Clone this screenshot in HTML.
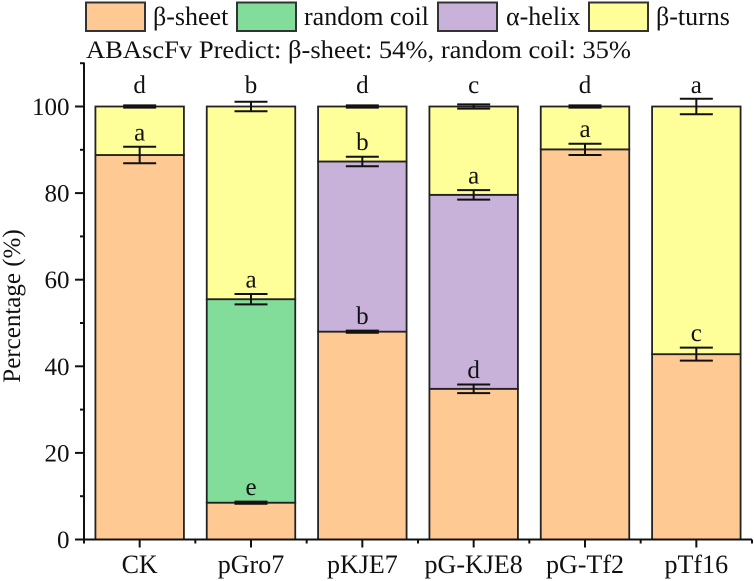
<!DOCTYPE html>
<html>
<head>
<meta charset="utf-8">
<style>
html,body{margin:0;padding:0;background:#fff;}
svg{display:block;font-family:"Liberation Serif",serif;}
</style>
</head>
<body>
<svg id="chart" xmlns="http://www.w3.org/2000/svg" width="754" height="581" viewBox="0 0 754 581"></svg>
<script>
var categories = ['CK', 'pGro7', 'pKJE7', 'pG-KJE8', 'pG-Tf2', 'pTf16'];
var seriesNames = ['β-sheet', 'random coil', 'α-helix', 'β-turns'];
var sheetValues = [88.8, 8.5, 48.0, 34.8, 90.1, 42.8];
var coilValues = [0, 47.0, 0, 0, 0, 0];
var helixValues = [0, 0, 39.3, 44.8, 0, 0];
var turnsValues = [11.2, 44.5, 12.7, 20.4, 9.9, 57.2];
var sheetErrors = [1.9, 0.25, 0.25, 1.0, 1.3, 1.5];
var coilErrors = [0, 1.2, 0, 0, 0, 0];
var helixErrors = [0, 0, 1.1, 1.1, 0, 0];
var turnsErrors = [0.25, 1.1, 0.25, 0.5, 0.25, 1.8];
var sheetLetters = ['a', 'e', 'b', 'd', 'a', 'c'];
var coilLetters = ['', 'a', '', '', '', ''];
var helixLetters = ['', '', 'b', 'a', '', ''];
var turnsLetters = ['d', 'b', 'd', 'c', 'd', 'a'];
var yTicks = [0, 20, 40, 60, 80, 100];
var yMinorTicks = [10, 30, 50, 70, 90, 110];
var predictNote = 'ABAscFv Predict: β-sheet: 54%, random coil: 35%';

var svg = document.getElementById('chart');
var NS = 'http://www.w3.org/2000/svg';
var colors = ['#FFC993', '#82DC9A', '#C8B2DA', '#FFFF99'];
var plotLeft = 84, plotRight = 752, plotBottom = 539.5, unit = 4.33;
var step = (plotRight - plotLeft) / categories.length;
var barWidth = 88.5, capHalf = 16.5;

function yScale(v) { return plotBottom - v * unit; }
function xScale(i) { return plotLeft + step * (i + 0.5); }
function make(tag, attrs, text) {
  var el = document.createElementNS(NS, tag);
  for (var k in attrs) el.setAttribute(k, attrs[k]);
  if (text !== undefined) el.textContent = text;
  svg.appendChild(el);
  return el;
}
function line(x1, y1, x2, y2, w, col) {
  return make('line', {x1: x1, y1: y1, x2: x2, y2: y2, stroke: col || '#111', 'stroke-width': w});
}

var valueSets = [sheetValues, coilValues, helixValues, turnsValues];
var errorSets = [sheetErrors, coilErrors, helixErrors, turnsErrors];
var letterSets = [sheetLetters, coilLetters, helixLetters, turnsLetters];
var slugs = ['beta-sheet', 'random-coil', 'alpha-helix', 'beta-turns'];

/* bars */
categories.forEach(function (cat, i) {
  var base = 0;
  valueSets.forEach(function (vals, s) {
    var v = vals[i];
    if (v > 0) {
      var r = make('rect', {
        x: xScale(i) - barWidth / 2, y: yScale(base + v), width: barWidth, height: v * unit,
        fill: colors[s], stroke: '#222', 'stroke-width': 1.8
      });
      
      
      base += v;
    }
  });
});

/* error bars and significance letters */
categories.forEach(function (cat, i) {
  var base = 0;
  valueSets.forEach(function (vals, s) {
    var v = vals[i];
    if (v > 0) {
      base += v;
      var e = errorSets[s][i], x = xScale(i);
      var top = yScale(base + e), bot = yScale(base - e);
      var g1 = line(x, top, x, bot, 2);
      
      
      var g2 = line(x - capHalf, top, x + capHalf, top, 2);
      
      
      var g3 = line(x - capHalf, bot, x + capHalf, bot, 2);
      
      
      var letterY = s === 3 ? yScale(103.1) : top - 6.5;
      var t = make('text', {x: x, y: letterY, 'text-anchor': 'middle', 'font-size': 25, fill: '#111'}, letterSets[s][i]);
      
      
    }
  });
});

/* axes */
var yAxis = line(plotLeft, 62.5, plotLeft, plotBottom + 1, 2);


var xAxis = line(plotLeft - 1, plotBottom, plotRight, plotBottom, 2);



yTicks.forEach(function (v) {
  var tk = line(plotLeft - 9, yScale(v), plotLeft, yScale(v), 2);
  
  
  var lb = make('text', {x: 69.5, y: yScale(v) + 8.5, 'text-anchor': 'end', 'font-size': 25, fill: '#111'}, v);
  
  
});
yMinorTicks.forEach(function (v) {
  var tk = line(plotLeft - 4, yScale(v), plotLeft, yScale(v), 2);
  
  
});
categories.forEach(function (cat, i) {
  var tk = line(xScale(i), plotBottom, xScale(i), plotBottom + 8, 2);
  
  
  var lb = make('text', {x: xScale(i), y: 573, 'text-anchor': 'middle', 'font-size': 26, fill: '#111'}, cat);
  
  
});
for (var m = 0; m <= categories.length; m++) {
  var mt = line(plotLeft + step * m, plotBottom, plotLeft + step * m, plotBottom + 4, 2);
  
  
}

/* y title */
var yt = make('text', {x: 0, y: 0, 'text-anchor': 'middle', 'font-size': 25, fill: '#111',
  transform: 'translate(20,306) rotate(-90)'}, 'Percentage (%)');



/* legend */
var swatchLefts = [86, 237, 438, 589];
var textLefts = [153, 304, 506, 656];
seriesNames.forEach(function (name, s) {
  var sw = make('rect', {x: swatchLefts[s], y: 2.5, width: 59, height: 28.5, fill: colors[s], stroke: '#333', 'stroke-width': 2});
  
  
  var lt = make('text', {x: textLefts[s], y: 25, 'font-size': 26, fill: '#111'}, name);
  
  
});

var note = make('text', {x: 86, y: 58, 'font-size': 25, fill: '#111', textLength: 545, lengthAdjust: 'spacingAndGlyphs'}, predictNote);


</script>
</body>
</html>
